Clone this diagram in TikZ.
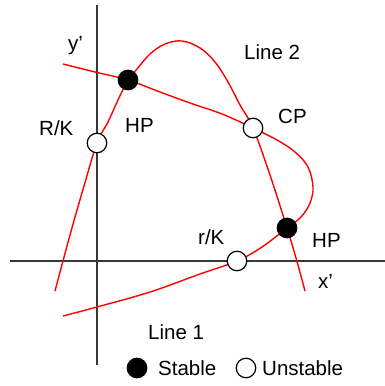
\documentclass[tikz,border=0pt]{standalone}
\usepackage{fontspec}
\setmainfont{Liberation Sans}
\begin{document}
\begin{tikzpicture}[x=1pt,y=-1pt,
  axis/.style={line width=1.8pt,draw={rgb,255:red,55;green,55;blue,55}},
  curve/.style={line width=1.4pt,draw=red,smooth,tension=0.6},
  stable/.style={circle,draw=black,fill=black,line width=1.2pt,minimum size=19.5pt,inner sep=0},
  unstable/.style={circle,draw=black,fill=white,line width=1.2pt,minimum size=19.5pt,inner sep=0},
  lbl/.style={anchor=base west,inner sep=0,font=\fontsize{20.5}{24}\selectfont}]
\useasboundingbox (0,0) rectangle (385,386);
% axes
\coordinate (yt) at (97,5);
\coordinate (yb) at (97,365);
\coordinate (xl) at (10,261);
\coordinate (xr) at (385,261);
\draw[axis] (yt) -- (yb);
\draw[axis] (xl) -- (xr);
% equilibrium points
\coordinate (hpu) at (128,80);
\coordinate (rk) at (97,143);
\coordinate (cp) at (253,128);
\coordinate (hpl) at (287,228);
\coordinate (rsk) at (237,261);
% Line 2
\draw[curve] plot coordinates {(305,291) (296,258) (hpl) (270,175) (cp) (240,105) (228,82) (215,62) (200,48) (182,41) (165,44) (150,54) (137,69) (hpu) (118,100) (108,122) (rk) (84,186) (70,235) (55,291)};
% Line 1
\draw[curve] plot coordinates {(63,316) (97,307) (150,292) (200,274) (rsk) (262,247) (hpl) (301,217) (310,203) (313,187) (308,167) (295,152) (277,140) (cp) (222,114) (190,103) (160,92) (hpu) (95,72) (63,64)};
% points
\node[stable] (n1) at (hpu) {};
\node[unstable] (n2) at (rk) {};
\node[unstable] (n3) at (cp) {};
\node[stable] (n4) at (hpl) {};
\node[unstable] (n5) at (rsk) {};
% labels
\node[lbl] (t1) at (68,50) {y’};
\node[lbl] (t2) at (39,135) {R/K};
\node[lbl] (t3) at (125,132) {HP};
\node[lbl] (t4) at (244,59) {Line 2};
\node[lbl] (t5) at (278,123) {CP};
\node[lbl] (t6) at (198,244) {r/K};
\node[lbl] (t7) at (312,247) {HP};
\node[lbl] (t8) at (318,288) {x’};
\node[lbl] (t9) at (148,339) {Line 1};
% legend
\node[stable] (l1) at (137,368) {};
\node[lbl] (l1t) at (158,375) {Stable};
\node[unstable] (l2) at (246,368) {};
\node[lbl] (l2t) at (262,375) {Unstable};
\end{tikzpicture}
\end{document}
